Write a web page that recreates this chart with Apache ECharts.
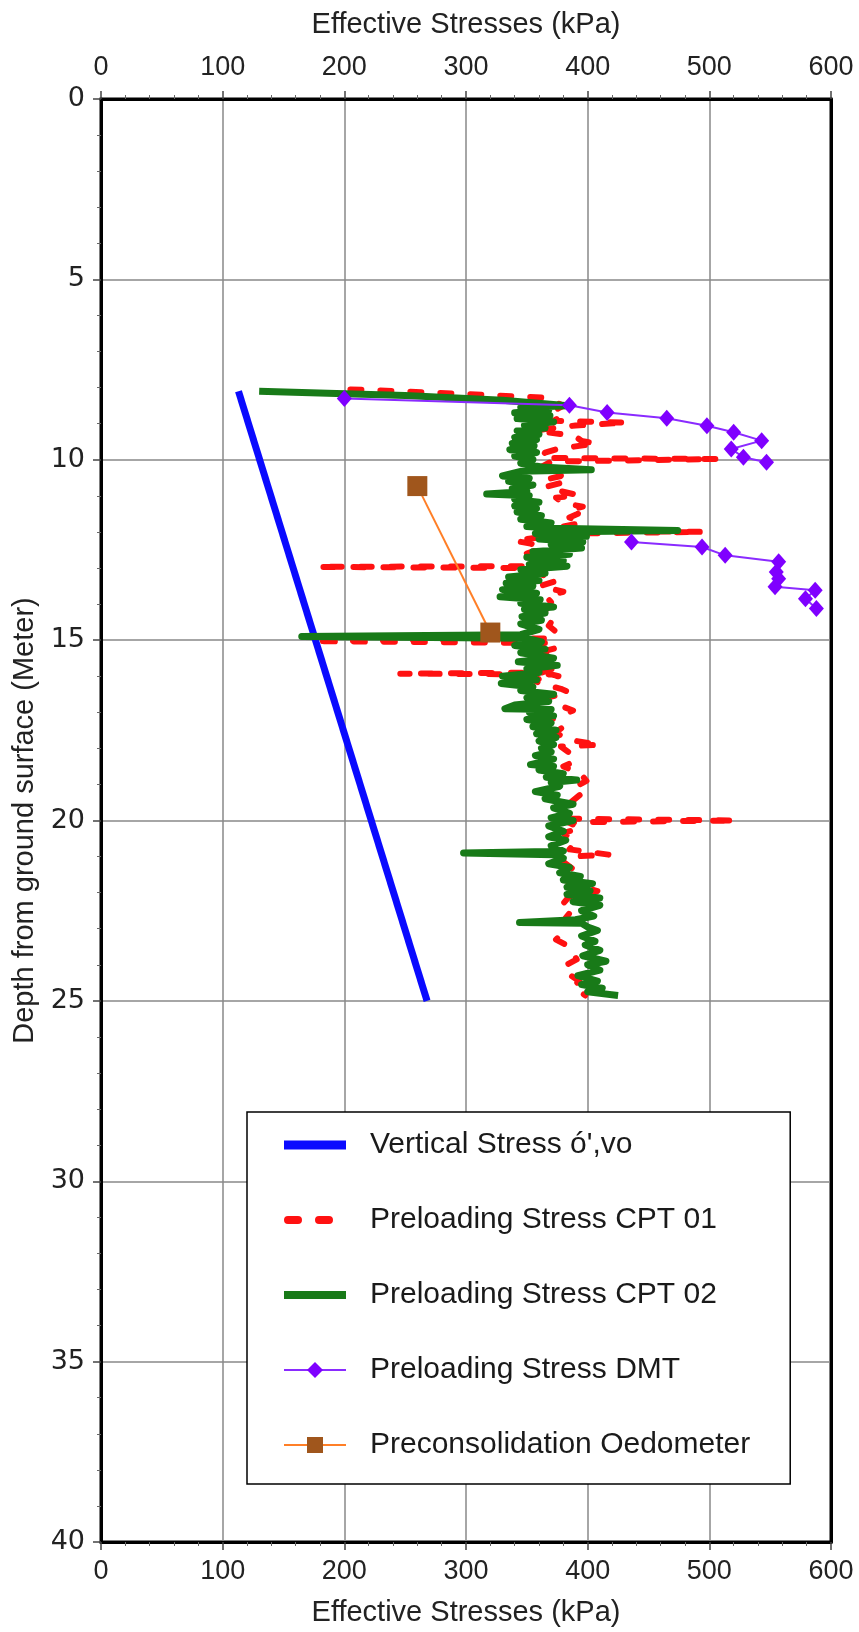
<!DOCTYPE html>
<html>
<head>
<meta charset="utf-8">
<script src="https://cdn.jsdelivr.net/npm/echarts@6/dist/echarts.min.js"></script>
<style>
  html, body { margin: 0; padding: 0; background: #fff; }
  #chart { width: 859px; height: 1632px; }
</style>
</head>
<body>
<div id="chart"></div>
<script>
// ---- Data: [effective stress (kPa), depth (m)] ----
const verticalStress = [[113, 8.1], [268, 25.0]];

const cpt01 = [
  [205,8.05],[300,8.18],[365,8.28],[380,8.5],[372,8.65],[378,8.8],[372,8.92],[372,8.97],[432,8.97],[390,9.05],
  [365,9.15],[358,9.2],[380,9.3],[391,9.38],[395,9.48],[407,9.55],[375,9.7],[365,9.8],[362,9.95],[506,9.98],
  [370,10.05],[362,10.2],[368,10.35],[378,10.45],[366,10.55],[377,10.65],[366,10.75],[375,10.85],[392,10.98],[374,11.05],
  [380,11.2],[396,11.3],[385,11.4],[392,11.5],[385,11.6],[395,11.75],[380,11.85],[375,11.95],[495,12.0],[372,12.05],
  [360,12.15],[340,12.25],[353,12.32],[362,12.45],[350,12.6],[355,12.8],[350,12.95],[178,12.97],[345,13.0],[360,13.15],
  [375,13.35],[361,13.5],[380,13.66],[366,13.8],[370,13.95],[365,14.2],[372,14.4],[368,14.6],[375,14.8],[370,14.95],
  [175,15.03],[365,15.08],[376,15.2],[365,15.3],[372,15.45],[360,15.6],[375,15.75],[362,15.9],[246,15.93],[370,15.95],
  [376,16.0],[355,16.1],[361,16.2],[378,16.35],[385,16.45],[366,16.6],[372,16.75],[388,16.95],[378,17.1],[365,17.25],
  [380,17.4],[374,17.55],[382,17.75],[410,17.9],[378,17.95],[386,18.15],[390,18.35],[380,18.5],[394,18.7],[399,18.9],
  [388,19.1],[394,19.28],[386,19.5],[390,19.75],[385,19.95],[522,20.0],[384,20.05],[394,20.2],[380,20.35],[390,20.6],
  [385,20.8],[418,20.95],[385,21.0],[380,21.15],[388,21.35],[379,21.55],[384,21.7],[408,21.96],[385,22.1],[380,22.3],
  [388,22.45],[382,22.7],[378,22.9],[380,23.1],[374,23.3],[385,23.5],[391,23.85],[380,24.05],[384,24.25],[393,24.45],
  [388,24.6],[398,24.85]
];

const cpt02 = [
  [130,8.1],[250,8.22],[330,8.35],[384,8.5],[345,8.55],[368,8.62],[340,8.7],[369,8.78],[342,8.86],[372,8.95],
  [348,9.05],[365,9.12],[342,9.2],[360,9.3],[340,9.38],[358,9.45],[338,9.55],[356,9.62],[336,9.72],[358,9.8],
  [340,9.9],[355,10.0],[345,10.1],[362,10.2],[403,10.28],[345,10.32],[330,10.45],[352,10.52],[335,10.6],[355,10.7],
  [338,10.8],[350,10.88],[317,10.95],[352,11.0],[340,11.1],[360,11.18],[340,11.28],[358,11.36],[342,11.45],[362,11.55],
  [345,11.65],[370,11.75],[350,11.85],[372,11.9],[474,11.96],[365,12.0],[357,12.05],[399,12.12],[360,12.2],[396,12.28],
  [370,12.35],[395,12.45],[355,12.55],[385,12.62],[350,12.7],[380,12.8],[352,12.9],[383,12.95],[345,13.05],[365,13.15],
  [335,13.25],[360,13.35],[333,13.42],[355,13.5],[330,13.6],[358,13.7],[328,13.8],[361,13.88],[345,13.98],[372,14.08],
  [348,14.15],[365,14.25],[346,14.35],[362,14.45],[345,14.55],[360,14.7],[345,14.85],[165,14.9],[350,14.95],[362,15.05],
  [340,15.15],[365,15.25],[345,15.35],[372,15.5],[343,15.6],[375,15.7],[350,15.8],[360,15.9],[330,16.0],[358,16.1],
  [329,16.2],[355,16.3],[345,16.4],[372,16.5],[350,16.6],[368,16.7],[340,16.8],[332,16.9],[370,16.92],[352,17.0],
  [372,17.1],[350,17.2],[370,17.3],[355,17.4],[374,17.5],[358,17.6],[374,17.7],[360,17.8],[372,17.9],[362,18.0],
  [370,18.1],[357,18.2],[372,18.3],[353,18.45],[372,18.5],[360,18.6],[380,18.7],[366,18.8],[391,18.88],[370,18.95],
  [377,19.05],[357,19.2],[375,19.3],[365,19.4],[388,19.55],[372,19.65],[385,19.8],[370,19.93],[388,20.0],[368,20.15],
  [380,20.3],[368,20.45],[382,20.55],[370,20.7],[380,20.85],[298,20.9],[372,20.95],[380,21.05],[368,21.2],[385,21.3],
  [377,21.45],[394,21.55],[380,21.65],[404,21.75],[383,21.85],[402,21.95],[383,22.05],[410,22.15],[388,22.25],[410,22.35],
  [395,22.5],[405,22.65],[390,22.75],[344,22.83],[395,22.85],[400,22.95],[408,23.05],[395,23.2],[406,23.35],[398,23.45],
  [410,23.6],[396,23.75],[415,23.9],[400,24.0],[410,24.15],[392,24.3],[408,24.45],[395,24.55],[412,24.65],[400,24.75],
  [425,24.85]
];

const dmt = [
  [200,8.3],[385,8.49],[416,8.69],[465,8.85],[498,9.06],[520,9.24],[543,9.47],[518,9.7],[528,9.93],[547,10.07],
  ['-','-'],
  [436,12.28],[494,12.42],[513,12.65],[557,12.83],[555,13.11],[557,13.3],[554,13.52],[587,13.62],[579,13.85],[588,14.12]
];

const oedometer = [[260,10.73],[320,14.79]];

const xTitle = 'Effective Stresses (kPa)';
const yTitle = 'Depth from ground surface (Meter)';
const seriesNames = ["Vertical Stress ó',vo", 'Preloading Stress CPT 01', 'Preloading Stress CPT 02',
                     'Preloading Stress DMT', 'Preconsolidation Oedometer'];

// ---- Chart ----
const chart = echarts.init(document.getElementById('chart'), null, { renderer: 'canvas' });
const sans = 'Liberation Sans, Arial, Helvetica, sans-serif';

function xAxisDef(pos, showGrid) {
  return {
    type: 'value', position: pos, min: 0, max: 600, interval: 100,
    name: xTitle, nameLocation: 'middle', nameGap: pos === 'top' ? 60 : 56,
    nameTextStyle: { fontFamily: sans, fontSize: 29, color: '#222' },
    axisLine: { show: true, onZero: false, lineStyle: { color: '#000', width: 3 } },
    axisTick: { show: true, length: 8, lineStyle: { color: '#444', width: 1.5 } },
    minorTick: { show: true, splitNumber: 5, length: 4, lineStyle: { color: '#666', width: 1 } },
    axisLabel: { fontFamily: sans, fontSize: 27, color: '#222', margin: pos === 'top' ? 18 : 16 },
    splitLine: { show: showGrid, lineStyle: { color: '#888', width: 1.5 } }
  };
}

// legend icons for the plain line series (no marker)
const iconSolidThick = 'path://M0,0H62V9H0Z';
const iconSolid = 'path://M0,0H62V8H0Z';
const iconDashed = 'path://M4,0H14A4,4,0,0,1,14,8H4A4,4,0,0,1,4,0Z M35,0H45A4,4,0,0,1,45,8H35A4,4,0,0,1,35,0Z M61.98,4H62V4.02H61.98Z';

const option = {
  backgroundColor: '#fff',
  animation: false,
  grid: { left: 101, right: 28, top: 99, bottom: 86, show: true, borderColor: '#000', borderWidth: 3 },
  xAxis: [xAxisDef('top', true), xAxisDef('bottom', false)],
  yAxis: [{
    type: 'value', inverse: true, min: 0, max: 40, interval: 5,
    name: yTitle, nameLocation: 'middle', nameGap: 62, nameRotate: 90,
    nameTextStyle: { fontFamily: sans, fontSize: 29, color: '#222' },
    axisLine: { show: true, onZero: false, lineStyle: { color: '#000', width: 3 } },
    axisTick: { show: true, length: 8, lineStyle: { color: '#444', width: 1.5 } },
    minorTick: { show: true, splitNumber: 5, length: 4, lineStyle: { color: '#666', width: 1 } },
    axisLabel: { fontFamily: 'DejaVu Sans, sans-serif', fontSize: 27, color: '#222', margin: 16 },
    splitLine: { show: true, lineStyle: { color: '#888', width: 1.5 } }
  }, {
    type: 'value', inverse: true, min: 0, max: 40, interval: 5, position: 'right',
    axisLine: { show: true, onZero: false, lineStyle: { color: '#000', width: 3 } },
    axisTick: { show: false }, axisLabel: { show: false }, splitLine: { show: false }
  }],
  legend: {
    orient: 'vertical', left: 247, top: 1112,
    padding: [18, 40, 24, 36], itemGap: 45, itemWidth: 62, itemHeight: 20,
    backgroundColor: '#fff', borderColor: '#000', borderWidth: 1.5,
    textStyle: { fontFamily: sans, fontSize: 30, color: '#1a1a1a', lineHeight: 30, padding: [0, 0, 0, 19] },
    data: [
      { name: seriesNames[0], icon: iconSolidThick },
      { name: seriesNames[1], icon: iconDashed },
      { name: seriesNames[2], icon: iconSolid },
      { name: seriesNames[3] },
      { name: seriesNames[4] }
    ]
  },
  series: [
    {
      name: seriesNames[0], type: 'line', data: verticalStress, showSymbol: false, symbol: 'none',
      lineStyle: { color: '#0a0aff', width: 7 }, itemStyle: { color: '#0a0aff' }, z: 3
    },
    {
      name: seriesNames[1], type: 'line', data: cpt01, showSymbol: false, symbol: 'none',
      lineStyle: { color: '#ff1111', width: 6, type: [11, 19], cap: 'round', join: 'round' },
      itemStyle: { color: '#ff1111' }, z: 2
    },
    {
      name: seriesNames[2], type: 'line', data: cpt02, showSymbol: false, symbol: 'none',
      lineStyle: { color: '#187a18', width: 7, join: 'round' }, itemStyle: { color: '#187a18' }, z: 4
    },
    {
      name: seriesNames[3], type: 'line', data: dmt, symbol: 'diamond', symbolSize: [15, 17],
      showSymbol: true, connectNulls: false,
      lineStyle: { color: '#8a2bff', width: 2 }, itemStyle: { color: '#7f00ff' }, z: 5
    },
    {
      name: seriesNames[4], type: 'line', data: oedometer, symbol: 'rect', symbolSize: 20,
      showSymbol: true,
      lineStyle: { color: '#ff7f27', width: 2 }, itemStyle: { color: '#a0561c' }, z: 6
    }
  ]
};
chart.setOption(option);
</script>
</body>
</html>
